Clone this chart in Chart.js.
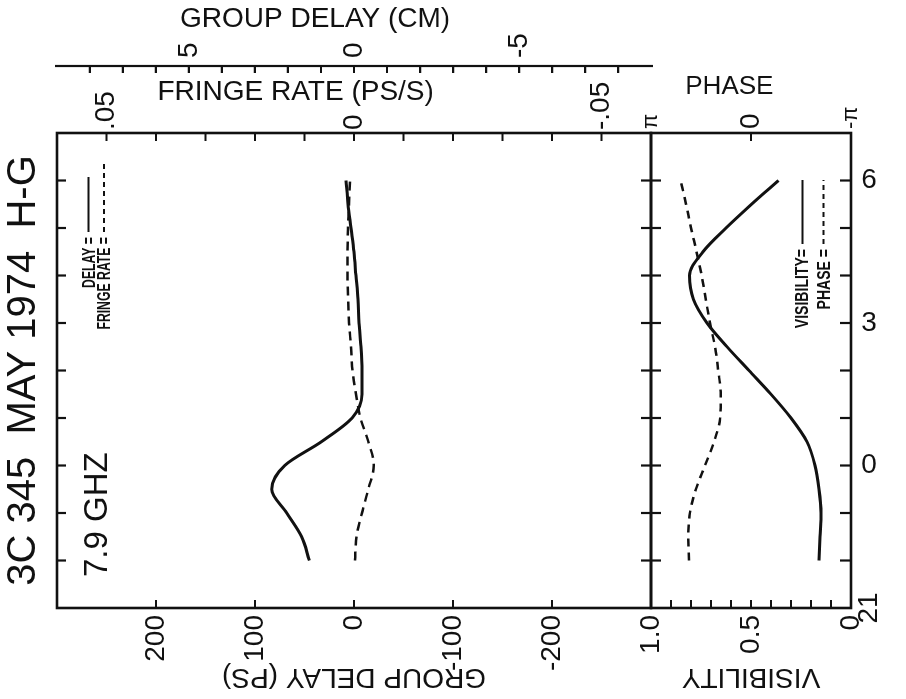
<!DOCTYPE html>
<html>
<head>
<meta charset="utf-8">
<script src="https://cdn.jsdelivr.net/npm/chart.js@4.4.1/dist/chart.umd.min.js"></script>
<style>
  html, body { margin: 0; padding: 0; background: #fff; overflow: hidden; }
  /* the figure is drawn upright and then turned a quarter turn, like the scan */
  #fig { position: absolute; left: 0; top: 0; width: 699px; height: 906px;
         transform-origin: 0 0; transform: translate(0, 699px) rotate(-90deg); }
  #fig canvas { position: absolute; left: 0; }
  #delay-chart { top: 0; }
  #vis-chart { top: 621px; }
</style>
</head>
<body>
<div id="fig">
  <canvas id="delay-chart" width="699" height="681"></canvas>
  <canvas id="vis-chart" width="699" height="285"></canvas>
</div>
<script>
// hours UT, counted from 0h (21h = -3)
const hours = [-2, -1.5, -1, -0.5, 0, 0.5, 1, 1.5, 2, 2.5, 3, 3.5, 4, 4.5, 5, 5.5, 6];
const groupDelay = [45, 53, 68, 83, 70, 33, 2, -8, -8, -7, -5, -4, -2, 0, 3, 6, 8];
const fringeRate = [-0.0002, -0.0005, -0.0016, -0.0029, -0.004, -0.0029, -0.0013, -0.0004, 0.0003, 0.0006, 0.001, 0.0012, 0.0013, 0.0013, 0.0012, 0.001, 0.0008];
const visibility = [0.16, 0.155, 0.15, 0.16, 0.18, 0.22, 0.30, 0.40, 0.51, 0.62, 0.72, 0.788, 0.808, 0.74, 0.625, 0.497, 0.363];
const phase = [1.95, 1.97, 1.92, 1.73, 1.445, 1.16, 0.97, 0.95, 1.03, 1.13, 1.29, 1.42, 1.55, 1.71, 1.885, 2.04, 2.21];

const hourTicks = [-2, -1, 0, 1, 2, 3, 4, 5, 6];
const hourLabelAt = [-3, 0, 3, 6];
const hourLabels = ['21', '0', '3', '6'];
const delayTicks = [-200, -100, 0, 100, 200];
const rateTicks = [-0.05, -0.04, -0.03, -0.02, -0.01, 0, 0.01, 0.02, 0.03, 0.04, 0.05];
const rateLabelAt = [0.05, 0, -0.05];
const rateLabels = ['.05', '0', '-.05'];
const cmTicks = [-8, -7, -6, -5, -4, -3, -2, -1, 0, 1, 2, 3, 4, 5, 6, 7, 8];
const cmLabelAt = [5, 0, -5];
const cmLabels = ['5', '0', '-5'];
const visTicks = [0, 0.1, 0.2, 0.3, 0.4, 0.5, 0.6, 0.7, 0.8, 0.9, 1];
const visLabelAt = [1, 0.5, 0];
const visLabels = ['1.0', '0.5', '0'];
const phaseTicks = [-Math.PI, 0, Math.PI];
const phaseLabels = ['-π', '0', 'π'];

const PS_PER_CM = 33.356;
const INK = '#111';
const FONT = "'Liberation Sans', Arial, sans-serif";

Chart.defaults.font.family = FONT;
Chart.defaults.color = INK;

const pointsOf = (ys) => hours.map((h, i) => ({ x: h, y: ys[i] }));
const labelFor = (at, texts) => (v) => {
    const i = at.findIndex(a => Math.abs(a - v) < 1e-9);
    return i < 0 ? '' : texts[i];
};
const fixTicks = (list) => (scale) => { scale.ticks = list.map(v => ({ value: v })); };
const fixWidth = (w) => (scale) => { scale.width = w; };
// trailing blanks push the lettering off-centre, as on the drawing
const axisTitle = (text, pad, size = 28, shift = 0) => ({
    display: true, text: text + ' '.repeat(shift), color: INK,
    font: { size, lineHeight: 1 }, padding: { top: pad, bottom: 0 }
});
const plainAxis = (extra) => Object.assign({
    grid: { display: false, drawTicks: false },
    border: { display: false }
}, extra);

// frame, inward tick marks, keys and the hand-lettered notes
const decor = (cfg) => ({
    id: 'decor',
    afterDraw(chart) {
        const { ctx, chartArea: a } = chart;
        ctx.save();
        ctx.strokeStyle = INK;
        ctx.fillStyle = INK;
        ctx.lineWidth = 2.6;
        ctx.strokeRect(a.left, a.top, a.right - a.left, a.bottom - a.top);

        ctx.lineWidth = 2.2;
        cfg.marks.forEach(m => {
            const s = chart.scales[m.scale];
            const out = m.outside || 0;
            ctx.beginPath();
            m.values.forEach(v => {
                const p = s.getPixelForValue(v);
                if (m.edge === 'top') { ctx.moveTo(p, a.top - out); ctx.lineTo(p, a.top + m.inside); }
                if (m.edge === 'bottom') { ctx.moveTo(p, a.bottom + out); ctx.lineTo(p, a.bottom - m.inside); }
                if (m.edge === 'left') { ctx.moveTo(a.left - out, p); ctx.lineTo(a.left + m.inside, p); }
                if (m.edge === 'right') { ctx.moveTo(a.right + out, p); ctx.lineTo(a.right - m.inside, p); }
                if (m.edge === 'axis') { ctx.moveTo(s.left, p); ctx.lineTo(s.left - m.inside, p); }
            });
            if (m.edge === 'axis') { ctx.moveTo(s.left, a.top - 2); ctx.lineTo(s.left, a.bottom + 2); }
            ctx.stroke();
        });

        (cfg.notes || []).forEach(n => {
            ctx.save();
            ctx.font = n.font;
            ctx.textAlign = n.align || 'left';
            ctx.textBaseline = 'alphabetic';
            ctx.translate(a.left + n.dx, a.top + n.dy);
            if (n.squeeze) ctx.scale(n.squeeze, 1);
            ctx.fillText(n.text, 0, 0);
            ctx.restore();
        });

        ctx.lineWidth = 2;
        (cfg.keys || []).forEach(k => {
            ctx.beginPath();
            ctx.setLineDash(k.dash || []);
            ctx.moveTo(a.left + k.dx1, a.top + k.dy);
            ctx.lineTo(a.left + k.dx2, a.top + k.dy);
            ctx.stroke();
        });
        ctx.setLineDash([]);

        if (cfg.hourLabels) {
            const x = chart.scales.x;
            ctx.font = '28px ' + FONT;
            ctx.textAlign = 'center';
            ctx.textBaseline = 'middle';
            hourLabelAt.forEach((h, i) => {
                ctx.save();
                ctx.translate(x.getPixelForValue(h), a.bottom + 18);
                if (hourLabels[i].length === 1) ctx.rotate(Math.PI / 2);
                ctx.fillText(hourLabels[i], 0, 0);
                ctx.restore();
            });
        }
        ctx.restore();
    }
});

const KEY_FONT = 'bold 18px ' + FONT;

new Chart(document.getElementById('delay-chart'), {
    type: 'line',
    data: {
        datasets: [
            { label: 'Delay', data: pointsOf(groupDelay), yAxisID: 'gd', borderColor: INK, borderWidth: 3,
              pointRadius: 0, cubicInterpolationMode: 'monotone' },
            { label: 'Fringe rate', data: pointsOf(fringeRate), yAxisID: 'fr', borderColor: INK, borderWidth: 2.5,
              borderDash: [9, 6], pointRadius: 0, cubicInterpolationMode: 'monotone' }
        ]
    },
    options: {
        responsive: false,
        animation: false,
        layout: { padding: { top: 0, bottom: 30, left: 0, right: 0 } },
        plugins: {
            legend: { display: false },
            tooltip: { enabled: false },
            title: { display: true, text: '3C 345  MAY 1974  H-G', fullSize: false, color: INK,
                     font: { size: 40, weight: 'normal', lineHeight: 1 }, padding: { top: 4, bottom: 13 } }
        },
        scales: {
            x: { type: 'linear', min: -3, max: 7, display: false },
            gd: plainAxis({
                position: 'left', min: -300, max: 300,
                afterBuildTicks: fixTicks(delayTicks), afterFit: fixWidth(91),
                ticks: { padding: 7, autoSkip: false, font: { size: 28 }, callback: v => String(v) },
                title: axisTitle('GROUP DELAY (PS)', 8.5)
            }),
            fr: plainAxis({
                position: 'right', weight: 0, min: -0.06, max: 0.06,
                afterBuildTicks: fixTicks(rateTicks), afterFit: fixWidth(67),
                ticks: { padding: 3, autoSkip: false, font: { size: 28 }, callback: labelFor(rateLabelAt, rateLabels) },
                title: axisTitle('FRINGE RATE (PS/S)', 12, 28, 15)
            }),
            cm: plainAxis({
                position: 'right', weight: 1, min: -300 / PS_PER_CM, max: 300 / PS_PER_CM,
                afterBuildTicks: fixTicks(cmTicks), afterFit: fixWidth(66),
                ticks: { padding: 8, autoSkip: false, font: { size: 28 }, callback: labelFor(cmLabelAt, cmLabels) },
                title: axisTitle('GROUP DELAY (CM)', 5.5, 28, 10)
            })
        }
    },
    plugins: [decor({
        marks: [
            { scale: 'x', values: hourTicks, edge: 'top', inside: 9 },
            { scale: 'x', values: hourTicks, edge: 'bottom', inside: 10, outside: 10 },
            { scale: 'gd', values: delayTicks, edge: 'left', inside: 8 },
            { scale: 'fr', values: rateTicks, edge: 'right', inside: 8 },
            { scale: 'cm', values: cmTicks, edge: 'axis', inside: 7 }
        ],
        notes: [
            { text: '7.9 GHZ', font: '33px ' + FONT, dx: 31, dy: 50 },
            { text: 'DELAY =', font: KEY_FONT, align: 'right', squeeze: 0.68, dx: 371, dy: 38 },
            { text: 'FRINGE RATE =', font: KEY_FONT, align: 'right', squeeze: 0.68, dx: 371, dy: 53 }
        ],
        keys: [
            { dx1: 376, dx2: 431, dy: 31.5 },
            { dx1: 376, dx2: 445, dy: 47, dash: [5, 4] }
        ]
    })]
});

new Chart(document.getElementById('vis-chart'), {
    type: 'line',
    data: {
        datasets: [
            { label: 'Visibility', data: pointsOf(visibility), yAxisID: 'vis', borderColor: INK, borderWidth: 3,
              pointRadius: 0, cubicInterpolationMode: 'monotone' },
            { label: 'Phase', data: pointsOf(phase), yAxisID: 'ph', borderColor: INK, borderWidth: 2.5,
              borderDash: [8, 6], pointRadius: 0, cubicInterpolationMode: 'monotone' }
        ]
    },
    options: {
        responsive: false,
        animation: false,
        layout: { padding: { top: 30, bottom: 55, left: 0, right: 0 } },
        plugins: { legend: { display: false }, tooltip: { enabled: false } },
        scales: {
            x: { type: 'linear', min: -3, max: 7, display: false },
            vis: plainAxis({
                position: 'left', min: 0, max: 1,
                afterBuildTicks: fixTicks(visTicks), afterFit: fixWidth(91),
                ticks: { padding: 7, autoSkip: false, font: { size: 28 }, callback: labelFor(visLabelAt, visLabels) },
                title: axisTitle('VISIBILITY', 8.5)
            }),
            ph: plainAxis({
                position: 'right', min: -Math.PI, max: Math.PI,
                afterBuildTicks: fixTicks(phaseTicks), afterFit: fixWidth(133),
                ticks: { padding: 4, autoSkip: false, callback: labelFor(phaseTicks, phaseLabels),
                         font: (c) => ({ size: c.tick && c.tick.value === 0 ? 28 : 22 }) },
                title: axisTitle('PHASE', 73.5, 26, 6)
            })
        }
    },
    plugins: [decor({
        marks: [
            { scale: 'x', values: hourTicks, edge: 'bottom', inside: 11 },
            { scale: 'vis', values: visTicks, edge: 'left', inside: 8 },
            { scale: 'ph', values: phaseTicks, edge: 'right', inside: 8 }
        ],
        notes: [
            { text: 'VISIBILITY=', font: KEY_FONT, align: 'right', squeeze: 0.78, dx: 359, dy: 157 },
            { text: 'PHASE =', font: KEY_FONT, align: 'right', squeeze: 0.78, dx: 359, dy: 179 }
        ],
        keys: [
            { dx1: 364, dx2: 428, dy: 151.5 },
            { dx1: 364, dx2: 428, dy: 172.5, dash: [5, 4] }
        ],
        hourLabels: true
    })]
});
</script>
</body>
</html>
